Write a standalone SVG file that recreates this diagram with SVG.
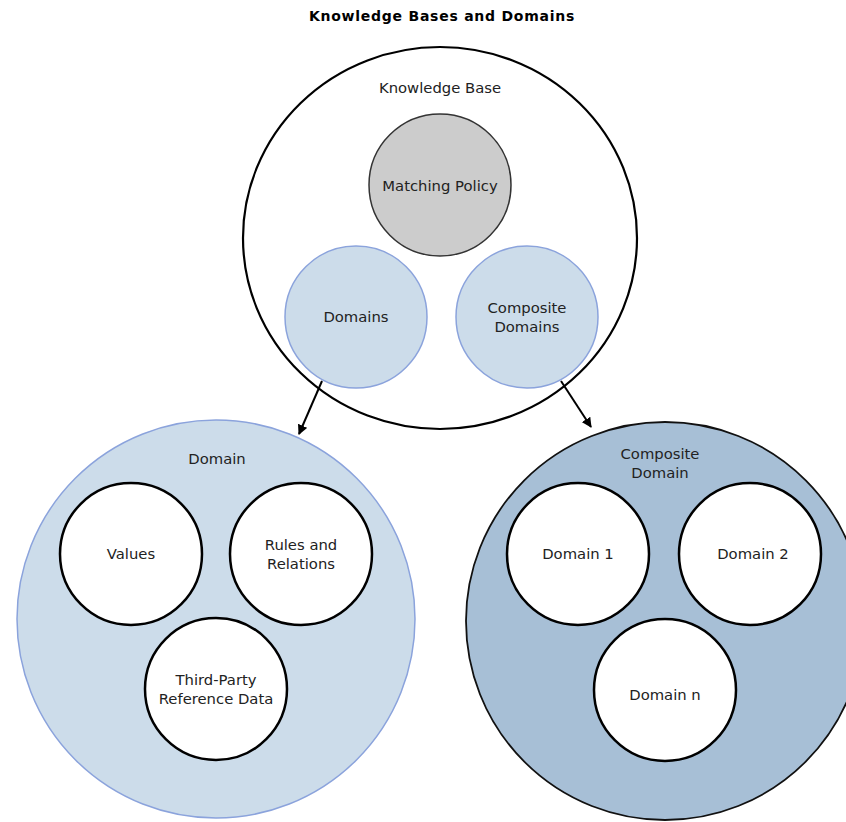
<svg xmlns="http://www.w3.org/2000/svg" width="846" height="822" viewBox="0 0 846 822">
<defs>
<marker id="ah" viewBox="0 0 10 10" refX="9" refY="5" markerWidth="5" markerHeight="5" orient="auto" markerUnits="strokeWidth">
<path d="M0,0 L10,5 L0,10 z" fill="#000"/>
</marker>
<style>
text{font-family:"DejaVu Sans",Verdana,sans-serif;font-size:14.8px;fill:#222;text-anchor:middle}
.title{font-weight:bold;font-size:14px;letter-spacing:0.75px;fill:#000}
.kb{fill:#fff;stroke:#000;stroke-width:2.2}
.gray{fill:#cccccc;stroke:#333;stroke-width:1.5}
.lb{fill:#ccdcea;stroke:#8ba3dc;stroke-width:1.5}
.dom{fill:#ccdcea;stroke:#8ba3dc;stroke-width:1.5}
.cdom{fill:#a7bfd6;stroke:#111;stroke-width:1.8}
.wc{fill:#fff;stroke:#000;stroke-width:2.5}
.conn{stroke:#000;stroke-width:2;fill:none;marker-end:url(#ah)}
</style>
</defs>
<rect width="846" height="822" fill="#fff"/>
<text class="title" x="442" y="21">Knowledge Bases and Domains</text>

<g id="knowledge-base">
<ellipse class="kb" cx="440" cy="238" rx="197" ry="191"/>
<text x="440" y="93">Knowledge Base</text>
</g>
<g id="matching-policy">
<circle class="gray" cx="440" cy="185" r="71"/>
<text x="440" y="191">Matching Policy</text>
</g>
<g id="domains">
<circle class="lb" cx="356" cy="317" r="71"/>
<text x="356" y="322">Domains</text>
</g>
<g id="composite-domains">
<circle class="lb" cx="527" cy="317" r="71"/>
<text x="527" y="313">Composite</text>
<text x="527" y="332">Domains</text>
</g>

<g id="domain">
<circle class="dom" cx="216" cy="619" r="199"/>
<text x="217" y="464">Domain</text>
</g>
<g id="values">
<circle class="wc" cx="131" cy="554" r="71"/>
<text x="131" y="559">Values</text>
</g>
<g id="rules-and-relations">
<circle class="wc" cx="301" cy="554" r="71"/>
<text x="301" y="550">Rules and</text>
<text x="301" y="569">Relations</text>
</g>
<g id="third-party">
<circle class="wc" cx="216" cy="689" r="71"/>
<text x="216" y="685">Third-Party</text>
<text x="216" y="704">Reference Data</text>
</g>

<g id="composite-domain">
<circle class="cdom" cx="665" cy="621" r="199"/>
<text x="660" y="459">Composite</text>
<text x="660" y="478">Domain</text>
</g>
<g id="domain-1">
<circle class="wc" cx="578" cy="554" r="71"/>
<text x="578" y="559">Domain 1</text>
</g>
<g id="domain-2">
<circle class="wc" cx="750" cy="554" r="71"/>
<text x="753" y="559">Domain 2</text>
</g>
<g id="domain-n">
<circle class="wc" cx="665" cy="690" r="71"/>
<text x="665" y="700">Domain n</text>
</g>

<g id="connectors">
<line class="conn" x1="322" y1="381" x2="299" y2="434"/>
<line class="conn" x1="561" y1="381" x2="591" y2="427"/>
</g>
</svg>
